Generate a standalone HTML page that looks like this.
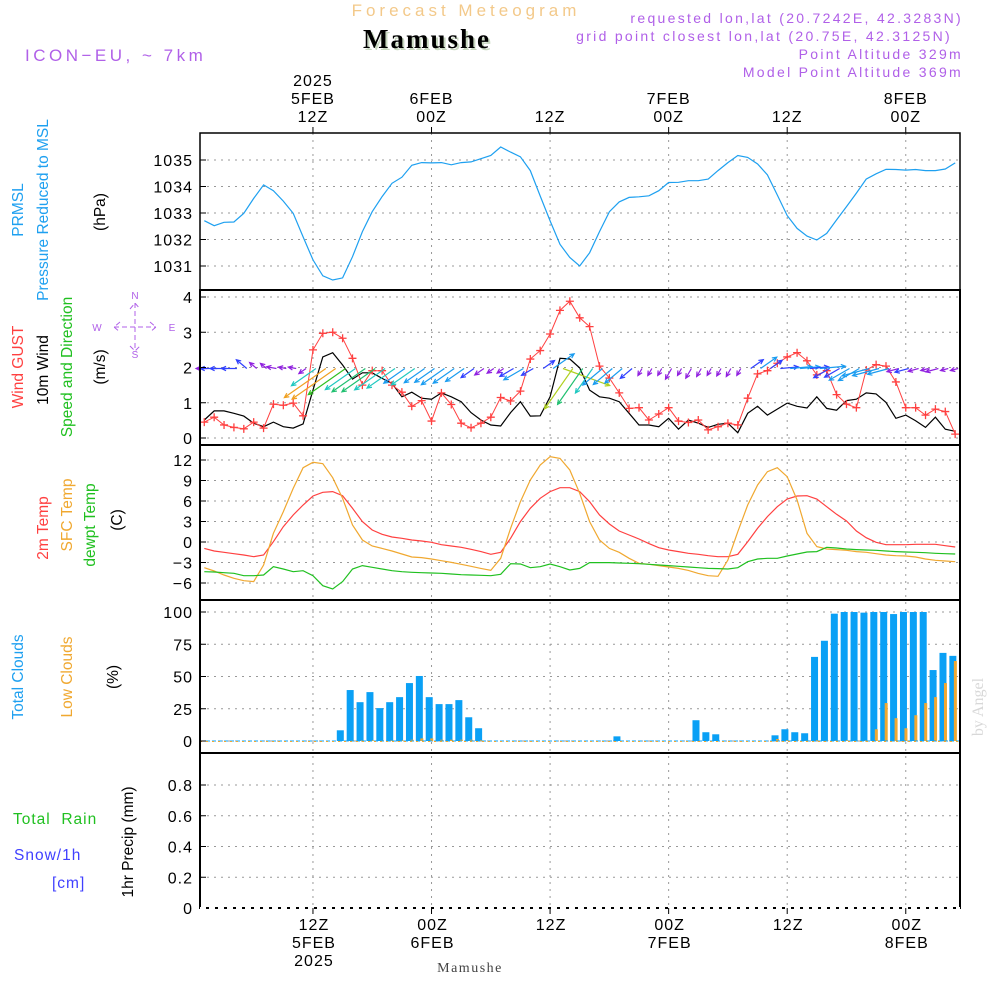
<!DOCTYPE html>
<html><head><meta charset="utf-8"><style>
body{margin:0;background:#fff;}
svg{display:block;font-family:"Liberation Sans",sans-serif;}
</style></head><body>
<svg id="chart" width="1000" height="1000" viewBox="0 0 1000 1000" xmlns="http://www.w3.org/2000/svg">
<rect width="1000" height="1000" fill="#fff"/>
<text x="466" y="16" font-size="17" fill="#f3c98a" text-anchor="middle" letter-spacing="4">Forecast Meteogram</text>
<text x="429" y="50" font-size="27" font-weight="bold" font-family="Liberation Serif,serif" fill="#c8d8c0" text-anchor="middle" letter-spacing="2">Mamushe</text>
<text x="427" y="48" font-size="27" font-weight="bold" font-family="Liberation Serif,serif" fill="#000" text-anchor="middle" letter-spacing="2">Mamushe</text>
<text x="25" y="61" font-size="17" fill="#b060e8" letter-spacing="3.5">ICON−EU, ~ 7km</text>
<g font-size="14" fill="#b060e8" text-anchor="end" letter-spacing="2.3">
<text x="963" y="23">requested lon,lat (20.7242E, 42.3283N)</text>
<text x="952" y="41">grid point closest lon,lat (20.75E, 42.3125N)</text>
<text x="963" y="59">Point Altitude 329m</text>
<text x="963" y="77">Model Point Altitude 369m</text>
</g>
<g id="left-labels" font-size="15.5">
<text transform="translate(23,210) rotate(-90)" text-anchor="middle" fill="#1ea0f0">PRMSL</text>
<text transform="translate(48,210) rotate(-90)" text-anchor="middle" fill="#1ea0f0">Pressure Reduced to MSL</text>
<text transform="translate(105,212) rotate(-90)" text-anchor="middle" fill="#000">(hPa)</text>
<text transform="translate(23,367) rotate(-90)" text-anchor="middle" fill="#ff4040">Wind GUST</text>
<text transform="translate(48,370) rotate(-90)" text-anchor="middle" fill="#000">10m Wind</text>
<text transform="translate(72,367) rotate(-90)" text-anchor="middle" fill="#20c020">Speed and Direction</text>
<text transform="translate(105,367) rotate(-90)" text-anchor="middle" fill="#000">(m/s)</text>
<text transform="translate(48,528) rotate(-90)" text-anchor="middle" fill="#ff4040">2m Temp</text>
<text transform="translate(72,515) rotate(-90)" text-anchor="middle" fill="#f0a830">SFC Temp</text>
<text transform="translate(95,525) rotate(-90)" text-anchor="middle" fill="#20c020">dewpt Temp</text>
<text transform="translate(122,520) rotate(-90)" text-anchor="middle" fill="#000">(C)</text>
<text transform="translate(23,677) rotate(-90)" text-anchor="middle" fill="#1ea0f0">Total Clouds</text>
<text transform="translate(72,677) rotate(-90)" text-anchor="middle" fill="#f0a830">Low Clouds</text>
<text transform="translate(118,677) rotate(-90)" text-anchor="middle" fill="#000">(%)</text>
<text x="13" y="824" fill="#20c020" letter-spacing="1" xml:space="preserve">Total  Rain</text>
<text x="14" y="860" fill="#4040ff" letter-spacing="1">Snow/1h</text>
<text x="52" y="888" fill="#4040ff" letter-spacing="1">[cm]</text>
<text transform="translate(133,842) rotate(-90)" text-anchor="middle" fill="#000">1hr Precip (mm)</text>
<text transform="translate(983,707) rotate(-90)" text-anchor="middle" fill="#d8d8d8" font-family="Liberation Serif,serif" font-size="16">by Angel</text>
<text x="470" y="972" font-size="14" font-family="Liberation Serif,serif" fill="#444" text-anchor="middle" letter-spacing="1.5">Mamushe</text>
</g>
<g id="compass" fill="#b060e8" stroke="#b060e8" font-size="10">
<text x="135" y="299" text-anchor="middle" stroke="none">N</text>
<text x="135" y="358" text-anchor="middle" stroke="none">S</text>
<text x="97" y="331" text-anchor="middle" stroke="none">W</text>
<text x="172" y="331" text-anchor="middle" stroke="none">E</text>
<path d="M135 303 V351 M114 327 H156 M130 309 L135 303 L140 309 M130 346 L135 351 L140 346 M120 322 L114 327 L120 332 M150 322 L156 327 L150 332" fill="none" stroke-width="1" stroke-dasharray="5 3"/>
</g>
<g id="grid"></g>
<g id="marks"></g>
<g id="frames"></g>
<g id="axes-text" font-size="16" fill="#000" letter-spacing="1"></g>
</svg>
<script>
const NS="http://www.w3.org/2000/svg";
const hours=[];for(let i=1;i<=77;i++)hours.push(i);
const pressure=[1032.71,1032.52,1032.65,1032.66,1032.99,1033.55,1034.06,1033.84,1033.45,1032.99,1032.1,1031.23,1030.63,1030.47,1030.55,1031.35,1032.3,1033.05,1033.62,1034.12,1034.35,1034.8,1034.9,1034.89,1034.9,1034.82,1034.9,1034.93,1035.05,1035.17,1035.49,1035.3,1035.12,1034.6,1033.64,1032.7,1031.82,1031.32,1031.0,1031.5,1032.3,1033.05,1033.42,1033.59,1033.61,1033.65,1033.84,1034.15,1034.16,1034.22,1034.22,1034.28,1034.6,1034.9,1035.17,1035.1,1034.85,1034.44,1033.68,1032.9,1032.42,1032.13,1031.98,1032.23,1032.74,1033.24,1033.75,1034.28,1034.48,1034.65,1034.64,1034.62,1034.64,1034.6,1034.6,1034.66,1034.89];
const gust=[0.45,0.59,0.37,0.30,0.26,0.45,0.28,0.96,0.93,0.99,0.63,2.5,2.97,3.0,2.83,2.26,1.5,1.91,1.91,1.5,1.3,0.9,1.06,0.48,1.28,0.95,0.42,0.29,0.42,0.59,1.15,1.05,1.33,2.24,2.48,2.95,3.62,3.88,3.41,3.16,2.04,1.70,1.28,0.84,0.86,0.51,0.68,0.86,0.48,0.44,0.51,0.23,0.32,0.42,0.37,1.13,1.82,1.91,2.12,2.3,2.42,2.19,1.79,1.91,1.23,0.96,0.86,1.93,2.08,2.04,1.59,0.86,0.86,0.65,0.82,0.75,0.11];
const wind=[0.51,0.77,0.77,0.70,0.62,0.42,0.32,0.45,0.32,0.28,0.4,1.36,2.3,2.42,2.07,1.67,1.85,1.85,1.69,1.55,1.17,1.3,1.13,1.1,1.28,1.17,1.03,0.72,0.51,0.37,0.34,0.72,1.03,0.62,0.63,1.17,2.26,2.24,1.99,1.36,1.17,1.13,1.03,0.7,0.37,0.37,0.32,0.56,0.25,0.51,0.42,0.3,0.39,0.42,0.15,0.7,0.9,0.65,0.82,0.99,0.9,0.85,1.17,0.84,0.79,1.06,1.1,1.28,1.25,1.01,0.56,0.65,0.49,0.3,0.59,0.25,0.19];
const windDir=[90,90,90,90,130,130,130,100,100,100,55,55,55,55,55,55,55,55,55,55,55,55,55,55,55,55,55,55,55,55,55,60,60,60,235,235,290,35,35,35,50,50,50,50,30,30,30,30,30,30,30,30,30,30,30,235,235,235,265,265,265,265,265,60,60,60,60,75,75,75,75,75,75,75,75,75,75];
const temp2m=[-0.93,-1.32,-1.51,-1.71,-1.9,-2.15,-1.9,0.05,2.24,3.95,5.41,6.73,7.27,7.37,6.78,4.93,2.98,1.76,1.12,0.73,0.54,0.29,0.15,-0.05,-0.39,-0.58,-0.78,-1.07,-1.41,-1.8,-1.51,0.54,2.98,4.93,6.39,7.37,7.95,7.95,7.37,5.9,3.95,2.63,1.61,1.02,0.44,-0.24,-0.83,-1.17,-1.41,-1.66,-1.8,-2.0,-2.15,-2.15,-1.8,0.05,2.0,3.71,5.17,6.29,6.73,6.78,6.29,5.17,4.05,3.07,1.61,0.63,-0.05,-0.39,-0.39,-0.39,-0.34,-0.34,-0.34,-0.54,-0.73];
const sfcTemp=[-3.76,-4.24,-4.83,-5.32,-5.66,-5.8,-3.37,1.27,4.44,7.85,10.88,11.66,11.46,9.41,6.39,2.49,0.29,-0.58,-0.93,-1.32,-1.76,-2.2,-2.29,-2.49,-2.73,-2.98,-3.27,-3.56,-3.86,-4.15,-2.39,2.0,5.9,9.07,11.27,12.49,12.24,10.54,7.12,2.98,0.29,-0.93,-1.51,-2.39,-3.12,-3.27,-3.46,-3.66,-3.86,-4.15,-4.59,-4.93,-5.02,-2.63,1.51,5.41,8.34,10.29,10.88,9.56,6.15,1.27,-0.68,-1.02,-1.12,-1.22,-1.41,-1.51,-1.71,-1.9,-2.0,-2.05,-2.2,-2.49,-2.68,-2.78,-2.88];
const dewpt=[-4.34,-4.39,-4.49,-4.58,-4.93,-4.93,-4.83,-3.61,-3.95,-4.34,-4.2,-4.93,-6.39,-6.88,-5.8,-3.95,-3.46,-3.71,-3.95,-4.2,-4.34,-4.44,-4.49,-4.54,-4.58,-4.68,-4.78,-4.83,-4.88,-4.93,-4.73,-3.17,-3.22,-3.76,-3.61,-3.22,-3.61,-4.1,-3.86,-3.02,-3.02,-3.02,-3.07,-3.12,-3.17,-3.27,-3.37,-3.46,-3.56,-3.66,-3.76,-3.86,-3.9,-3.95,-3.76,-2.88,-2.49,-2.39,-2.39,-2.05,-1.76,-1.46,-1.41,-0.78,-0.88,-1.02,-1.12,-1.17,-1.22,-1.32,-1.41,-1.46,-1.51,-1.56,-1.66,-1.71,-1.76];
const totalClouds=[0,0,0,0,0,0,0,0,0,0,0,0,0,0,8.3,39.5,30.1,37.9,25.5,30.1,34,44.9,50.4,34,28.6,28.6,31.7,18.4,9.9,0,0,0,0,0,0,0,0,0,0,0,0,0,3.6,0,0,0,0,0,0,0,16.1,6.8,5.2,0,0,0,0,0,4.4,9.1,6.8,6.0,65.2,77.7,98.7,100,100,99.5,100,100,98.4,100,100,100,55,68.3,66];
const lowClouds=[0,0,0,0,0,0,0,0,0,0,0,0,0,0,0,0.5,0.5,0.5,0.5,0.5,0.5,1,2,2,1,1,1,1,0.5,0,0,0,0,0,0,0,0,0,0,0,0,0,0,0,0,0,0,0,0,0,0,0,0,0,0,0,0,0,1.5,0.5,0.5,0.5,0.5,0.5,0.5,0.5,0.5,0.5,9.1,29.4,17.7,9.9,20,29.4,34,44.9,62];
const precip=new Array(77).fill(0);
const pTicks=[1031,1032,1033,1034,1035],wTicks=[0,1,2,3,4],tTicks=[-6,-3,0,3,6,9,12],cTicks=[0,25,50,75,100],rTicks=[0,0.2,0.4,0.6,0.8];
const topTimeTicks=[12,24,36,48,60,72];
const topLabels=[["2025","5FEB","12Z"],["6FEB","00Z"],["12Z"],["7FEB","00Z"],["12Z"],["8FEB","00Z"]];
const botLabels=[["12Z","5FEB","2025"],["00Z","6FEB"],["12Z"],["00Z","7FEB"],["12Z"],["00Z","8FEB"]];

const X0=200,X1=960;
const xs=t=>194.4+9.88*t;
const yP=v=>160+(1035-v)*26.5;
const yW=v=>438-v*35.25;
const yT=v=>460+(12-v)*6.833;
const yC=v=>741-v*1.29;
const yR=v=>908-v*153.75;
const panels=[[133,290],[290,445],[445,600],[600,753],[753,908]];

const grid=document.getElementById('grid'),marks=document.getElementById('marks'),frames=document.getElementById('frames'),axt=document.getElementById('axes-text');
function mk(tag,attrs,parent){const e=document.createElementNS(NS,tag);for(const k in attrs)e.setAttribute(k,attrs[k]);parent.appendChild(e);return e;}
function txt(x,y,s,parent,anchor){const e=mk('text',{x:x,y:y,'text-anchor':anchor||'middle'},parent);e.textContent=s;return e;}

topTimeTicks.forEach(t=>{
  const l=mk('line',{x1:xs(t),x2:xs(t),y1:133,y2:908,stroke:'#999','stroke-dasharray':'2 5'},grid);
  
  
});
function hgrid(ticks,yf,name){
  ticks.forEach(v=>{
    const l=mk('line',{x1:X0,x2:X1,y1:yf(v),y2:yf(v),stroke:'#999','stroke-dasharray':'2 5'},grid);
    
    
    const t=txt(193,yf(v)+6,(name==='precip'&&v!==0)?v.toFixed(1):String(v).replace('-','−'),axt,'end');
    
    
    mk('line',{x1:X0,x2:X0+6,y1:yf(v),y2:yf(v),stroke:'#000'},frames);
  });
}
hgrid(pTicks,yP,'pressure');hgrid(wTicks,yW,'wind');hgrid(tTicks,yT,'temp');hgrid(cTicks,yC,'clouds');hgrid(rTicks,yR,'precip');

function line(arr,yf,color,name,w){
  const d=arr.map((v,i)=>(i?'L':'M')+xs(hours[i]).toFixed(1)+' '+yf(v).toFixed(1)).join(' ');
  const p=mk('path',{d:d,fill:'none',stroke:color,'stroke-width':w||1.2},marks);
  
  
}
totalClouds.forEach((v,i)=>{
  const x=xs(hours[i])-2.3;
  if(v>0){const r=mk('rect',{x:x-3.5,y:yC(v),width:7,height:yC(0)-yC(v),fill:'#0aa0f5'},marks);
  
  }
  const lv=lowClouds[i];
  if(lv>0){const r2=mk('rect',{x:x+1,y:yC(lv),width:3,height:yC(0)-yC(lv),fill:'#f0a830'},marks);
  
  }
});
mk('line',{x1:X0,x2:X1,y1:yC(0),y2:yC(0),stroke:'#0aa0f5','stroke-dasharray':'4 2'},marks);
mk('line',{x1:X0,x2:X1,y1:yC(0)+0.5,y2:yC(0)+0.5,stroke:'#f0a830','stroke-dasharray':'2 4'},marks);
line(precip,yR,'#000','precip-line',1);

line(pressure,yP,'#1ea0f0','pressure-line');
line(temp2m,yT,'#ff4040','temp-2m-line');
line(sfcTemp,yT,'#f0a830','sfc-temp-line');
line(dewpt,yT,'#20c020','dewpoint-line');
line(wind,yW,'#000','wind-speed-line');
line(gust,yW,'#ff4040','wind-gust-line',1);
gust.forEach((v,i)=>{
  const x=xs(hours[i]),y=yW(v);
  const m=mk('path',{d:`M${x-4} ${y}H${x+4}M${x} ${y-4}V${y+4}`,stroke:'#ff4040','stroke-width':1.3},marks);
  
  
});
function wcol(s){if(s<0.6)return'#9020e0';if(s<0.9)return'#3040ff';if(s<1.3)return'#1a9cf0';if(s<1.7)return'#20c8c0';if(s<2.0)return'#20c070';if(s<2.2)return'#30c020';if(s<2.3)return'#b0d020';return'#f0a020';}
wind.forEach((s,i)=>{
  const L=Math.max(s*22,8),b=(windDir[i]+180)*Math.PI/180;
  const x0=xs(hours[i])+3,y0=yW(2)+1;
  const x1=x0+Math.sin(b)*L,y1=y0-Math.cos(b)*L;
  const a=Math.atan2(y1-y0,x1-x0),h=5;
  const hx1=x1-h*Math.cos(a-0.45),hy1=y1-h*Math.sin(a-0.45),hx2=x1-h*Math.cos(a+0.45),hy2=y1-h*Math.sin(a+0.45);
  const p=mk('path',{d:`M${x0} ${y0}L${x1} ${y1}M${hx1} ${hy1}L${x1} ${y1}L${hx2} ${hy2}`,stroke:wcol(s),'stroke-width':1.2,fill:'none'},marks);
  
  
});
panels.forEach(([a,b],k)=>{
  const r=mk('rect',{x:X0,y:a,width:X1-X0,height:b-a,fill:'none',stroke:'#000','stroke-width':k===0?1.5:2},frames);
  
  
});
mk('line',{x1:X0,x2:X1,y1:908,y2:908,stroke:'#fff','stroke-width':2,'stroke-dasharray':'6 3'},frames);
topTimeTicks.forEach((t,k)=>{
  mk('line',{x1:xs(t),x2:xs(t),y1:127,y2:133,stroke:'#000'},frames);
  mk('line',{x1:xs(t),x2:xs(t),y1:908,y2:914,stroke:'#000'},frames);
  const tl=topLabels[k];
  tl.forEach((s,j)=>{const e=txt(xs(t),128-6-(tl.length-1-j)*18,s,axt);
    
    });
  botLabels[k].forEach((s,j)=>{const e=txt(xs(t)+1,930+j*18,s,axt);
    
    });
});
</script>
</body></html>
